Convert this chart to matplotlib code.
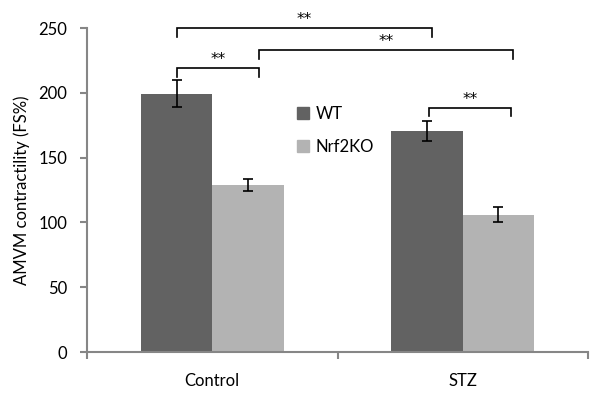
import matplotlib
matplotlib.use('Agg')
import matplotlib.pyplot as plt
from matplotlib.patches import Patch
import numpy as np

# values
groups = ['Control', 'STZ']
series = ['WT', 'Nrf2KO']
means = {'WT': [199.5, 170.5], 'Nrf2KO': [129, 106]}
errors = {'WT': [10.5, 8], 'Nrf2KO': [4.5, 6]}
colors = {'WT': '#626262', 'Nrf2KO': '#b3b3b3'}

# significance brackets: (bar a, bar b, bracket height, label)
# bars numbered 0..3 as Control-WT, Control-KO, STZ-WT, STZ-KO
brackets = [(0, 2, 250, '**'),
            (1, 3, 233, '**'),
            (0, 1, 219, '**'),
            (2, 3, 188.5, '**')]
# small horizontal nudges of the bracket ends, as in the original
nudges = [(0, 0.02), (0.045, 0.06), (0, 0.045), (0.007, 0.05)]

plt.rcParams['font.family'] = ['Lato', 'DejaVu Sans']

fig = plt.figure(figsize=(6, 3.96), dpi=100)
ax = fig.add_axes([0.145, 0.111, 0.835, 0.818])

width = 0.285
x = np.arange(len(groups))
bar_x = np.zeros(4)
for i, s in enumerate(series):
    pos = x + (i - 0.5) * width
    ax.bar(pos, means[s], width, color=colors[s], label=s, zorder=2)
    ax.errorbar(pos, means[s], yerr=errors[s], fmt='none', ecolor='black',
                elinewidth=1.2, capsize=3.6, capthick=1.2, zorder=3)
    bar_x[i::2] = pos

for (a, b, h, lab), (da, db) in zip(brackets, nudges):
    x1 = bar_x[a] + da
    x2 = bar_x[b] + db
    drop = 6.5
    ax.plot([x1, x1, x2, x2], [h - drop, h, h, h - drop], color='black',
            lw=1.2, clip_on=False, zorder=4, solid_joinstyle='miter')
    ax.text((x1 + x2) / 2, h + 1, lab, ha='center', va='bottom',
            fontsize=11, family='DejaVu Sans')

ax.set_xlim(-0.5, 1.5)
ax.set_ylim(0, 250)
ax.set_yticks(np.arange(0, 251, 50))
ax.set_xticks(x)
ax.set_xticklabels(groups, fontsize=12)
ax.set_xticks([-0.5, 0.5, 1.5], minor=True)
ax.tick_params(axis='x', which='major', length=0, pad=15)
ax.tick_params(axis='x', which='minor', length=5, width=1.5, color='#868686')
ax.tick_params(axis='y', length=5, width=1.5, color='#868686', labelsize=12, pad=9)

for sp in ['top', 'right']:
    ax.spines[sp].set_visible(False)
for sp in ['left', 'bottom']:
    ax.spines[sp].set_color('#868686')
    ax.spines[sp].set_linewidth(1.5)

ax.set_ylabel('AMVM contractility (FS%)', fontsize=12, labelpad=6)

handles = [Patch(color=colors[s], label=s) for s in series]
ax.legend(handles=handles, loc='upper left', bbox_to_anchor=(0.419, 0.76),
          frameon=False, fontsize=12, handlelength=0.75, handleheight=0.75,
          handletextpad=0.35, labelspacing=1.0, borderpad=0, borderaxespad=0)

fig.savefig('out.png', dpi=100)
